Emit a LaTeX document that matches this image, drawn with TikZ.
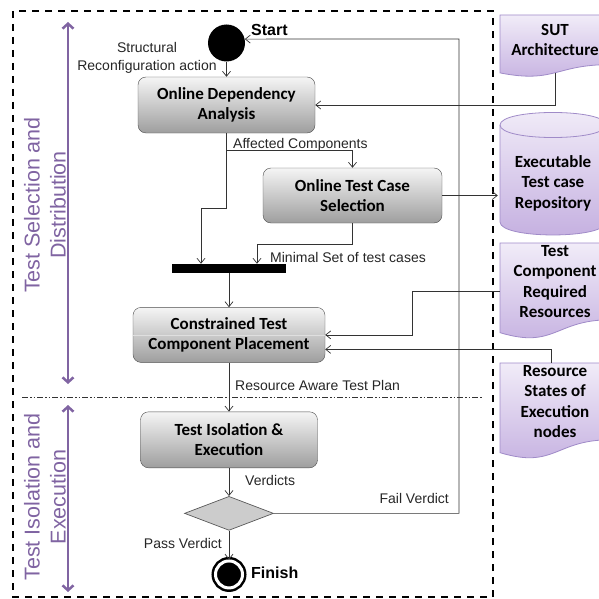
\documentclass[tikz,border=0pt]{standalone}
\usepackage{fontspec}
\setmainfont{Liberation Sans}
\newfontfamily\calibri{Carlito}
\usepackage{xcolor}
\usepackage{tikz}
\usetikzlibrary{shapes.geometric, arrows.meta, positioning}

\definecolor{phasepurple}{HTML}{8064A2}
\definecolor{docline}{HTML}{A08BC8}
\definecolor{doctop}{HTML}{F1ECF8}
\definecolor{docbottom}{HTML}{C4AFE0}

% wavy document: left, top, height
\newcommand{\docshape}[3]{%
  \path[docfill] (#1,#2) -- ({#1+110},#2) -- ({#1+110},{#2+0.8*#3})
    .. controls ({#1+55},{#2+0.8*#3}) and ({#1+55},{#2+1.107*#3}) .. (#1,{#2+0.934*#3}) -- cycle;}

\begin{document}
\begin{tikzpicture}[x=1pt, y=-1pt,
      activity/.style={
        rectangle,
        rounded corners=8pt,
        draw=black!70,
        top color=black!4,
        bottom color=black!38,
        align=center,
        inner sep=0pt,
        font=\calibri\bfseries\fontsize{17}{20.5}\selectfont
      },
      doctext/.style={
        align=center,
        minimum width=110pt,
        inner sep=0pt,
        font=\calibri\bfseries\fontsize{17}{20.5}\selectfont
      },
      docfill/.style={
        draw=docline,
        line width=0.8pt,
        top color=doctop,
        bottom color=docbottom
      },
      flowlabel/.style={
        inner sep=1pt,
        text=black!85,
        font=\fontsize{14}{18}\selectfont
      },
      phaselabel/.style={
        rotate=90,
        align=center,
        text=phasepurple,
        font=\fontsize{21.5}{26}\selectfont
      },
      phase/.style={
        draw=phasepurple,
        line width=2.5pt,
        {Straight Barb[length=5pt,width=11pt,line join=miter]}-{Straight Barb[length=5pt,width=11pt,line join=miter]}
      },
      arrow/.style={
        draw=black!80,
        line width=0.7pt,
        -{Straight Barb[length=5pt,width=8pt]}
      },
      node distance=28pt
    ]
    \useasboundingbox (0,0) rectangle (598,599);

    % frame and phase split
    \draw [line width=2.2pt, dash pattern=on 7pt off 6pt] (13,11) rectangle (493,597);
    \draw [black!80, line width=0.8pt, dash pattern=on 6pt off 2pt on 1.5pt off 2pt on 1.5pt off 2pt] (22,397) -- (483,397);

    % phases
    \draw [phase] (68,22) -- (68,384);
    \draw [phase] (68,405) -- (68,592);
    \node (selPhase) [phaselabel] at (45,205) {Test Selection and\\Distribution};
    \node (isoPhase) [phaselabel] at (45,497) {Test Isolation and\\Execution};

    % documents and repository
    \docshape{500}{15}{62}
    \docshape{500}{243}{96}
    \docshape{500}{363}{96}
    \path [docfill] (500,125) -- (500,222) .. controls (500,239.3) and (606,239.3) .. (606,222)
      -- (606,125) .. controls (606,108.3) and (500,108.3) .. (500,125) -- cycle;
    \draw [docline, line width=0.8pt] (500,125) .. controls (500,141.7) and (606,141.7) .. (606,125);

    \node (sutDoc) [doctext, minimum height=49.6pt] at (555,39.8) {SUT\\Architecture};
    \node (repoDb) [doctext] at (553,183) {Executable\\Test case\\Repository};
    \node (reqDoc) [doctext, minimum height=76.8pt] at (555,281.4) {Test\\Component\\Required\\Resources};
    \node (stateDoc) [doctext, minimum height=76.8pt] at (555,401.4) {Resource\\States of\\Execution\\nodes};

    % flow nodes
    \node (start) [circle, fill=black, minimum size=37pt, inner sep=0pt] at (226.5,43) {};
    \node (startLabel) [anchor=base west, inner sep=0pt, font=\bfseries\fontsize{16}{19}\selectfont] at (251,36) {Start};
    \node (onlineDep) [activity, minimum width=177pt, minimum height=56pt] at (226.5,105) {Online Dependency\\Analysis};
    \node (testSel) [activity, minimum width=179pt, minimum height=55pt] at (352.5,195.5) {Online Test Case\\Selection};
    \node (joinBar) [fill=black, minimum width=114pt, minimum height=9pt, inner sep=0pt] at (229,268.5) {};
    \node (constrPlace) [activity, minimum width=192pt, minimum height=55pt, below=34pt of joinBar] {Constrained Test\\Component Placement};
    \draw [white!75!gray, line width=0.6pt] (constrPlace.west) -- (constrPlace.east);
    \node (testIso) [activity, minimum width=177pt, minimum height=56pt, below=49pt of constrPlace] {Test Isolation \&\\Execution};
    \node (verdictCheck) [diamond, fill=black!20, draw=black!65, line width=0.7pt, minimum width=89pt, minimum height=34pt, inner sep=0pt, below=28pt of testIso] {};
    \node (finish) [circle, fill=black, draw=black, line width=2.5pt, double=white, double distance=3pt, minimum size=27pt, inner sep=0pt, below=29pt of verdictCheck] {};
    \node (finishLabel) [anchor=base west, inner sep=0pt, font=\bfseries\fontsize{16}{19}\selectfont] at (251,578) {Finish};
    \coordinate (failTurn) at (459,39);

    % labels
    \node (structLabel) [flowlabel, align=center] at (147,58) {Structural\\Reconfiguration action};
    \node (affLabel) [flowlabel, anchor=base west] at (232,148) {Affected Components};
    \node (minLabel) [flowlabel, anchor=base west] at (269,262) {Minimal Set of test cases};
    \node (planLabel) [flowlabel, anchor=base west] at (234,390) {Resource Aware Test Plan};
    \node (verdictLabel) [flowlabel, anchor=base west] at (244,485) {Verdicts};
    \node (passLabel) [flowlabel, anchor=base east] at (223,548) {Pass Verdict};
    \node (failLabel) [flowlabel, anchor=base east] at (450,503) {Fail Verdict};

    % arrows
    \draw [arrow] (start) -- (onlineDep);
    \draw [arrow] ([yshift=-8pt]sutDoc.south) |- (onlineDep.east);
    \draw [arrow] (onlineDep.south) -- ++(0,17) -| (testSel.north);
    \draw [arrow] (onlineDep.south) -- ++(0,75) -| ([xshift=-28pt]joinBar.north);
    \draw [arrow] (testSel.east) -- (testSel.east -| repoDb.west);
    \draw [arrow] (testSel.south) -- ++(0,21) -| ([xshift=28pt]joinBar.north);
    \draw [arrow] (joinBar.south) -- (joinBar.south |- constrPlace.north);
    \draw [arrow] ([yshift=-10pt]reqDoc.west) -- ++(-87,0) |- (constrPlace.east);
    \draw [arrow] ([xshift=-4pt]stateDoc.north) |- ([yshift=-14.5pt]constrPlace.east);
    \draw [arrow] (constrPlace) -- (testIso);
    \draw [arrow] (testIso) -- (verdictCheck);
    \draw [arrow] (verdictCheck) -- (finish);
    \draw [arrow] (verdictCheck.east) -| (failTurn) -- (start.12);

    \end{tikzpicture}
\end{document}
